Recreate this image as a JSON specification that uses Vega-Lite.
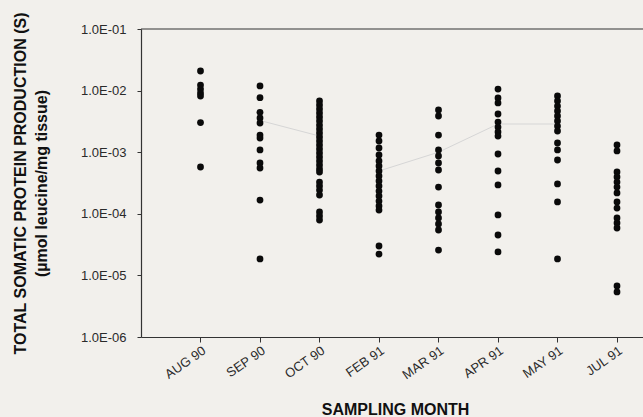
{
  "$schema": "https://vega.github.io/schema/vega-lite/v6.json",
  "width": 502,
  "height": 308,
  "autosize": {"type": "none"},
  "padding": {"left": 141, "top": 29, "right": 0, "bottom": 80},
  "background": "#f2f0ec",
  "config": {
    "view": {"stroke": null},
    "font": "Liberation Sans",
    "axis": {
      "domainColor": "#333",
      "domainWidth": 1.2,
      "tickColor": "#333",
      "labelColor": "#2a2a2a",
      "titleColor": "#111",
      "grid": false,
      "labelFont": "Liberation Sans",
      "titleFont": "Liberation Sans"
    }
  },
  "datasets": {
    "pts": [
      {"m": "AUG 90", "i": 1, "v": 0.0208}, {"m": "AUG 90", "i": 1, "v": 0.0123}, {"m": "AUG 90", "i": 1, "v": 0.0106}, {"m": "AUG 90", "i": 1, "v": 0.00914}, {"m": "AUG 90", "i": 1, "v": 0.00817}, {"m": "AUG 90", "i": 1, "v": 0.00303}, {"m": "AUG 90", "i": 1, "v": 0.000575},
      {"m": "SEP 90", "i": 2, "v": 0.0119}, {"m": "SEP 90", "i": 2, "v": 0.00767}, {"m": "SEP 90", "i": 2, "v": 0.00444}, {"m": "SEP 90", "i": 2, "v": 0.00359}, {"m": "SEP 90", "i": 2, "v": 0.00298}, {"m": "SEP 90", "i": 2, "v": 0.0019}, {"m": "SEP 90", "i": 2, "v": 0.0017}, {"m": "SEP 90", "i": 2, "v": 0.00109}, {"m": "SEP 90", "i": 2, "v": 0.000668}, {"m": "SEP 90", "i": 2, "v": 0.000554}, {"m": "SEP 90", "i": 2, "v": 0.000167}, {"m": "SEP 90", "i": 2, "v": 0.0000185},
      {"m": "OCT 90", "i": 3, "v": 0.00678}, {"m": "OCT 90", "i": 3, "v": 0.00584}, {"m": "OCT 90", "i": 3, "v": 0.00503}, {"m": "OCT 90", "i": 3, "v": 0.00433}, {"m": "OCT 90", "i": 3, "v": 0.00373}, {"m": "OCT 90", "i": 3, "v": 0.00321}, {"m": "OCT 90", "i": 3, "v": 0.00276}, {"m": "OCT 90", "i": 3, "v": 0.00238}, {"m": "OCT 90", "i": 3, "v": 0.00205}, {"m": "OCT 90", "i": 3, "v": 0.00177}, {"m": "OCT 90", "i": 3, "v": 0.00152}, {"m": "OCT 90", "i": 3, "v": 0.00131}, {"m": "OCT 90", "i": 3, "v": 0.00113}, {"m": "OCT 90", "i": 3, "v": 0.000971}, {"m": "OCT 90", "i": 3, "v": 0.000836}, {"m": "OCT 90", "i": 3, "v": 0.00072}, {"m": "OCT 90", "i": 3, "v": 0.00062}, {"m": "OCT 90", "i": 3, "v": 0.000534}, {"m": "OCT 90", "i": 3, "v": 0.000477}, {"m": "OCT 90", "i": 3, "v": 0.000328}, {"m": "OCT 90", "i": 3, "v": 0.000283}, {"m": "OCT 90", "i": 3, "v": 0.000243}, {"m": "OCT 90", "i": 3, "v": 0.000202}, {"m": "OCT 90", "i": 3, "v": 0.000107}, {"m": "OCT 90", "i": 3, "v": 0.0000921}, {"m": "OCT 90", "i": 3, "v": 0.0000793},
      {"m": "FEB 91", "i": 4, "v": 0.0019}, {"m": "FEB 91", "i": 4, "v": 0.00152}, {"m": "FEB 91", "i": 4, "v": 0.00117}, {"m": "FEB 91", "i": 4, "v": 0.000901}, {"m": "FEB 91", "i": 4, "v": 0.00072}, {"m": "FEB 91", "i": 4, "v": 0.000597}, {"m": "FEB 91", "i": 4, "v": 0.000495}, {"m": "FEB 91", "i": 4, "v": 0.000411}, {"m": "FEB 91", "i": 4, "v": 0.000341}, {"m": "FEB 91", "i": 4, "v": 0.000283}, {"m": "FEB 91", "i": 4, "v": 0.000234}, {"m": "FEB 91", "i": 4, "v": 0.000195}, {"m": "FEB 91", "i": 4, "v": 0.000161}, {"m": "FEB 91", "i": 4, "v": 0.000134}, {"m": "FEB 91", "i": 4, "v": 0.000115}, {"m": "FEB 91", "i": 4, "v": 0.00003}, {"m": "FEB 91", "i": 4, "v": 0.0000222},
      {"m": "MAR 91", "i": 5, "v": 0.00484}, {"m": "MAR 91", "i": 5, "v": 0.00387}, {"m": "MAR 91", "i": 5, "v": 0.0019}, {"m": "MAR 91", "i": 5, "v": 0.00109}, {"m": "MAR 91", "i": 5, "v": 0.000868}, {"m": "MAR 91", "i": 5, "v": 0.000668}, {"m": "MAR 91", "i": 5, "v": 0.000514}, {"m": "MAR 91", "i": 5, "v": 0.000272}, {"m": "MAR 91", "i": 5, "v": 0.000139}, {"m": "MAR 91", "i": 5, "v": 0.000107}, {"m": "MAR 91", "i": 5, "v": 0.0000855}, {"m": "MAR 91", "i": 5, "v": 0.0000683}, {"m": "MAR 91", "i": 5, "v": 0.0000546}, {"m": "MAR 91", "i": 5, "v": 0.0000258},
      {"m": "APR 91", "i": 6, "v": 0.0106}, {"m": "APR 91", "i": 6, "v": 0.00758}, {"m": "APR 91", "i": 6, "v": 0.0063}, {"m": "APR 91", "i": 6, "v": 0.00417}, {"m": "APR 91", "i": 6, "v": 0.00309}, {"m": "APR 91", "i": 6, "v": 0.00256}, {"m": "APR 91", "i": 6, "v": 0.00213}, {"m": "APR 91", "i": 6, "v": 0.00183}, {"m": "APR 91", "i": 6, "v": 0.000935}, {"m": "APR 91", "i": 6, "v": 0.000495}, {"m": "APR 91", "i": 6, "v": 0.000294}, {"m": "APR 91", "i": 6, "v": 0.0000957}, {"m": "APR 91", "i": 6, "v": 0.0000453}, {"m": "APR 91", "i": 6, "v": 0.000024},
      {"m": "MAY 91", "i": 7, "v": 0.00817}, {"m": "MAY 91", "i": 7, "v": 0.00678}, {"m": "MAY 91", "i": 7, "v": 0.00562}, {"m": "MAY 91", "i": 7, "v": 0.00467}, {"m": "MAY 91", "i": 7, "v": 0.00387}, {"m": "MAY 91", "i": 7, "v": 0.00321}, {"m": "MAY 91", "i": 7, "v": 0.00266}, {"m": "MAY 91", "i": 7, "v": 0.00221}, {"m": "MAY 91", "i": 7, "v": 0.00141}, {"m": "MAY 91", "i": 7, "v": 0.00109}, {"m": "MAY 91", "i": 7, "v": 0.000747}, {"m": "MAY 91", "i": 7, "v": 0.000305}, {"m": "MAY 91", "i": 7, "v": 0.000156}, {"m": "MAY 91", "i": 7, "v": 0.0000185},
      {"m": "JUL 91", "i": 8, "v": 0.00131}, {"m": "JUL 91", "i": 8, "v": 0.00105}, {"m": "JUL 91", "i": 8, "v": 0.000477}, {"m": "JUL 91", "i": 8, "v": 0.000396}, {"m": "JUL 91", "i": 8, "v": 0.000328}, {"m": "JUL 91", "i": 8, "v": 0.000272}, {"m": "JUL 91", "i": 8, "v": 0.000218}, {"m": "JUL 91", "i": 8, "v": 0.000156}, {"m": "JUL 91", "i": 8, "v": 0.000124}, {"m": "JUL 91", "i": 8, "v": 0.0000855}, {"m": "JUL 91", "i": 8, "v": 0.000071}, {"m": "JUL 91", "i": 8, "v": 0.0000588}, {"m": "JUL 91", "i": 8, "v": 0.00000673}, {"m": "JUL 91", "i": 8, "v": 0.00000538}
    ],
    "means": [
      {"seg": "a", "i": 2, "v": 0.00327},
      {"seg": "a", "i": 3, "v": 0.00183},
      {"seg": "b", "i": 4, "v": 0.000495},
      {"seg": "b", "i": 5, "v": 0.001},
      {"seg": "b", "i": 6, "v": 0.00287},
      {"seg": "b", "i": 7, "v": 0.00287}
    ]
  },
  "layer": [
    {
      "data": {"values": [{"top": 0.1}]},
      "mark": {"type": "rule", "color": "#333", "strokeWidth": 1.2},
      "encoding": {"y": {"field": "top", "type": "quantitative"}}
    },
    {
      "data": {"name": "means"},
      "mark": {"type": "line", "color": "#d6d6d6", "strokeWidth": 1},
      "encoding": {
        "x": {"field": "i", "type": "quantitative"},
        "y": {"field": "v", "type": "quantitative"},
        "detail": {"field": "seg"}
      }
    },
    {
      "data": {"name": "pts"},
      "mark": {"type": "circle", "size": 46, "color": "#0a0a0a", "opacity": 1},
      "encoding": {
        "x": {
          "field": "i",
          "type": "quantitative",
          "scale": {"domain": [0, 8.437], "nice": false, "zero": false},
          "axis": {
            "values": [1, 2, 3, 4, 5, 6, 7, 8],
            "labelExpr": "['','AUG 90','SEP 90','OCT 90','FEB 91','MAR 91','APR 91','MAY 91','JUL 91'][datum.value]",
            "labelAngle": -35,
            "labelAlign": "right",
            "labelBaseline": "top",
            "labelFontSize": 13,
            "labelPadding": 2,
            "labelFlush": false,
            "labelOverlap": false,
            "tickSize": 5,
            "title": "SAMPLING MONTH",
            "titleFontSize": 16,
            "titleFontWeight": "bold",
            "titleX": 254,
            "titleY": 77,
            "titleBaseline": "alphabetic"
          }
        },
        "y": {
          "field": "v",
          "type": "quantitative",
          "scale": {"type": "log", "domain": [0.000001, 0.1], "nice": false},
          "axis": {
            "values": [0.000001, 0.00001, 0.0001, 0.001, 0.01, 0.1],
            "labelExpr": "'1.0E-0' + round(-log(datum.value)/LN10)",
            "labelFontSize": 13,
            "labelFlush": false,
            "tickSize": 4,
            "labelPadding": 11,
            "title": ["TOTAL SOMATIC PROTEIN PRODUCTION (S)", "(µmol leucine/mg tissue)"],
            "titleFontSize": 16,
            "titleFontWeight": "bold",
            "titleLineHeight": 21,
            "titleAngle": -90,
            "titleBaseline": "top",
            "titleX": -129
          }
        }
      }
    }
  ]
}
